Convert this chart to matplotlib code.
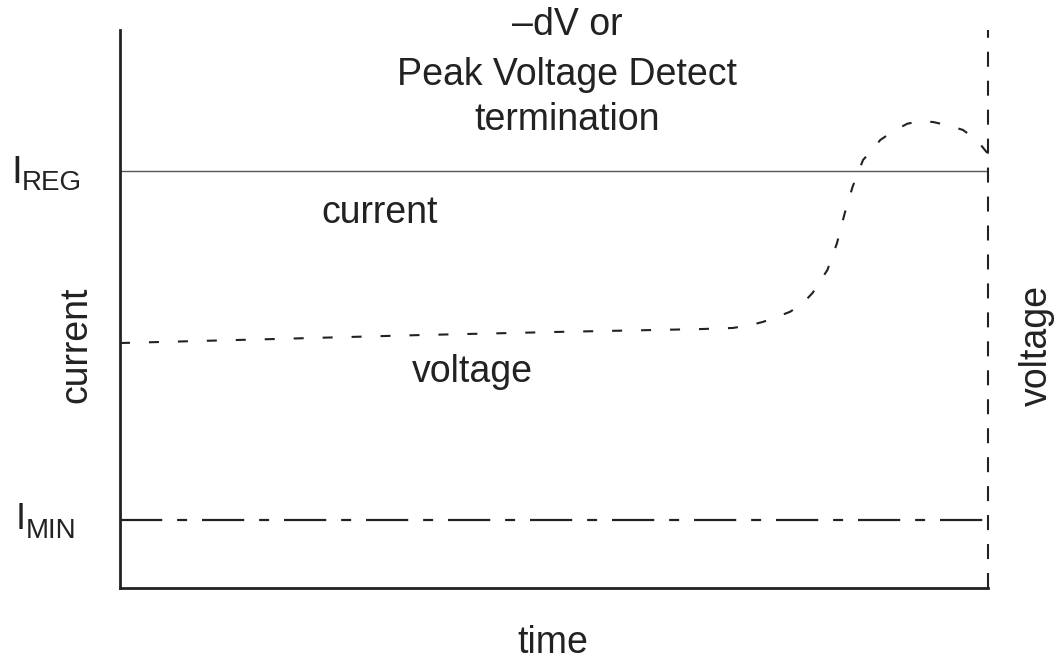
import matplotlib
matplotlib.use('Agg')
import matplotlib.pyplot as plt

plt.rcParams['font.family'] = ['Liberation Sans', 'DejaVu Sans']

# charge profile, time and level both in percent of the plot box
time = [0, 17.3, 33.8, 50.7, 66.8, 70.6, 72.6, 74.1, 75.7, 77.2, 78.6, 79.8,
        81.5, 82.6, 83.5, 84.4, 85.6, 86.4, 87.6, 89.1, 90.7, 92.2, 93.7,
        95.4, 97.1, 98.7, 99.9]
voltage = [43.9, 44.6, 45.3, 45.9, 46.4, 46.6, 47.1, 47.7, 48.6, 49.5, 50.9,
           52.9, 57.0, 61.8, 67.2, 71.9, 76.7, 78.1, 80.3, 81.9, 83.2, 83.7,
           83.5, 82.9, 82.1, 80.3, 78.0]
i_reg = 74.7
i_min = 12.2
t_end = 100

ink = '#222222'
W, H = 1055, 662

fig = plt.figure(figsize=(W / 100, H / 100), dpi=100)
ax = fig.add_axes([120 / W, 1 - 588 / H, 868 / W, 558 / H])
ax.set_xlim(0, t_end)
ax.set_ylim(0, 100)
ax.set_xticks([])
ax.set_yticks([])
for s in ['top', 'right']:
    ax.spines[s].set_visible(False)
for s in ['left', 'bottom']:
    ax.spines[s].set_color(ink)
    ax.spines[s].set_linewidth(2.0)

ax.axhline(i_reg, color='#555555', lw=1.0)
ax.plot([0, t_end], [i_min, i_min], color=ink, lw=1.6,
        dashes=(19, 6.7, 4.5, 6.7))
ax.plot(time, voltage, color=ink, lw=1.5, dashes=(4.8, 9.1))
ax.plot([t_end, t_end], [0, 100], color=ink, lw=1.5, dashes=(7.2, 6.7),
        clip_on=False)


def px(x, y):
    return x / W, 1 - y / H


fs = 27
for txt, y in [('\u2013dV or', 25), ('Peak Voltage Detect', 75), ('termination', 120)]:
    fig.text(*px(567, y), txt, ha='center', va='center', fontsize=fs, color=ink)
fig.text(*px(380, 213), 'current', ha='center', va='center', fontsize=fs, color=ink)
fig.text(*px(472, 372), 'voltage', ha='center', va='center', fontsize=fs, color=ink)
fig.text(*px(553, 643), 'time', ha='center', va='center', fontsize=fs, color=ink)
fig.text(*px(76, 345), 'current', ha='center', va='center', fontsize=fs,
         color=ink, rotation=90)
fig.text(*px(1037, 345), 'voltage', ha='center', va='center', fontsize=fs,
         color=ink, rotation=90)

# I_REG and I_MIN labels with smaller subscripts
fig.text(*px(11, 183), 'I', ha='left', va='baseline', fontsize=28, color=ink)
fig.text(*px(22, 190), 'REG', ha='left', va='baseline', fontsize=20, color=ink)
fig.text(*px(16, 529), 'I', ha='left', va='baseline', fontsize=26, color=ink)
fig.text(*px(26, 538), 'MIN', ha='left', va='baseline', fontsize=20, color=ink)

fig.savefig('out.png', dpi=100, facecolor='white')
